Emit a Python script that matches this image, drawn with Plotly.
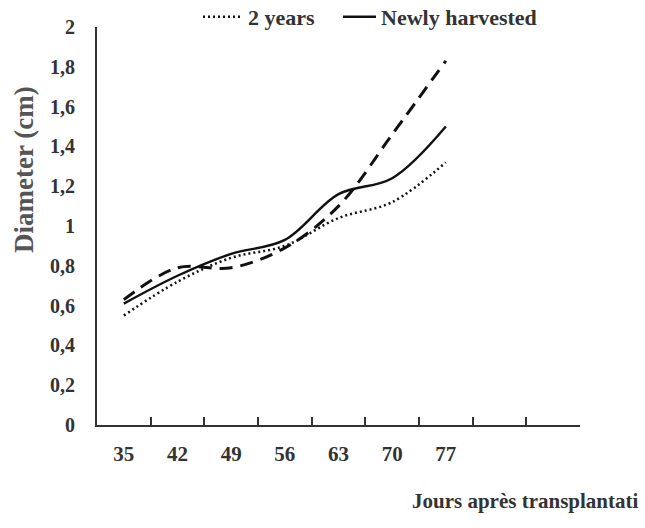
import plotly.graph_objects as go

# ---- data ----
days = ["35", "42", "49", "56", "63", "70", "77"]
extra_slots = [" ", "  "]
two_years = [0.55, 0.72, 0.84, 0.90, 1.04, 1.12, 1.32]
newly_harvested = [0.61, 0.75, 0.86, 0.93, 1.16, 1.24, 1.50]
third_series = [0.63, 0.79, 0.79, 0.89, 1.10, 1.46, 1.83]
y_tick_vals = [0, 0.2, 0.4, 0.6, 0.8, 1, 1.2, 1.4, 1.6, 1.8, 2]
y_tick_text = ["0", "0,2", "0,4", "0,6", "0,8", "1", "1,2", "1,4", "1,6", "1,8", "2"]

FONT = "Liberation Serif"
INK = "#333333"
W, H = 645, 528
ML, MR, MT, MB = 97, 65, 27, 103
PW, PH = W - ML - MR, H - MT - MB

fig = go.Figure()
fig.add_trace(go.Scatter(
    x=days, y=third_series, mode="lines", name="Series 1", showlegend=False,
    line=dict(color="#111111", width=3, dash="13px,8px", shape="spline", smoothing=1),
))
fig.add_trace(go.Scatter(
    x=days, y=two_years, mode="lines", name="2 years", legend="legend",
    line=dict(color="#111111", width=2.5, dash="2px,3px", shape="spline", smoothing=1),
))
fig.add_trace(go.Scatter(
    x=days, y=newly_harvested, mode="lines", name="Newly harvested", legend="legend2",
    line=dict(color="#111111", width=2.4, shape="spline", smoothing=1),
))

legend_font = dict(family=FONT, size=22, color="#333333", weight="bold")
legend_y = 1 + (MT + 4) / PH

fig.update_layout(
    width=W, height=H,
    margin=dict(l=ML, r=MR, t=MT, b=MB, autoexpand=False),
    paper_bgcolor="white", plot_bgcolor="white",
    font=dict(family=FONT, size=21, color=INK),
    legend=dict(
        orientation="h", x=(198 - ML) / PW, xanchor="left",
        y=legend_y, yanchor="top", font=legend_font,
        itemwidth=40, bgcolor="rgba(0,0,0,0)",
    ),
    legend2=dict(
        orientation="h", x=(338 - ML) / PW, xanchor="left",
        y=legend_y, yanchor="top", font=legend_font,
        itemwidth=33, bgcolor="rgba(0,0,0,0)",
    ),
    xaxis=dict(
        type="category", categoryorder="array", categoryarray=days + extra_slots,
        range=[-0.5, 8.5], tickson="boundaries",
        ticks="inside", ticklen=8, tickwidth=1.5, tickcolor="#333333",
        showline=True, linecolor="#333333", linewidth=2,
        showgrid=False, zeroline=False,
        tickfont=dict(family=FONT, size=21, color="#333333", weight="bold"),
        ticklabelstandoff=9,
    ),
    yaxis=dict(
        range=[0, 2], tickvals=y_tick_vals, ticktext=y_tick_text,
        ticks="outside", ticklen=16, tickwidth=1, tickcolor="rgba(0,0,0,0)",
        showline=True, linecolor="#333333", linewidth=2,
        showgrid=False, zeroline=False,
        tickfont=dict(family=FONT, size=20, color="#333333", weight="bold"),
    ),
    yaxis2=dict(
        overlaying="y", side="left", range=[0, 2], tickvals=y_tick_vals,
        ticks="inside", ticklen=7, tickwidth=1.5, tickcolor="#333333",
        showticklabels=False, showline=False, showgrid=False, zeroline=False,
    ),
    annotations=[
        dict(text="Diameter (cm)", xref="paper", yref="paper",
             x=(24 - ML) / PW, y=(H - MB - 170) / PH, xanchor="center", yanchor="middle",
             textangle=-90, showarrow=False,
             font=dict(family=FONT, size=27, color="#555555", weight="bold")),
        dict(text="Jours après transplantati", xref="paper", yref="paper",
             x=(410 - ML) / PW, y=-(501 - (H - MB)) / PH, xanchor="left", yanchor="middle",
             showarrow=False,
             font=dict(family=FONT, size=21, color="#333333", weight="bold")),
    ],
)

fig.write_html("out.html", config={"displayModeBar": False},
               post_script="document.body.style.margin='0';")
